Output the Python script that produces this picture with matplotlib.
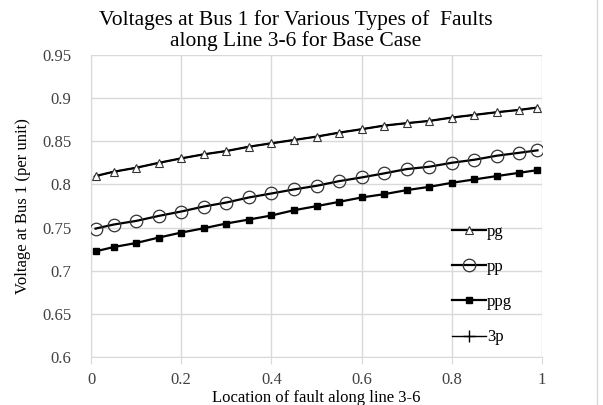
import numpy as np
import matplotlib
matplotlib.use("Agg")
import matplotlib.pyplot as plt
from matplotlib.lines import Line2D

plt.rcParams['font.family'] = ['Liberation Serif', 'DejaVu Serif']

# location of fault along line 3-6
loc = [0.01, 0.05, 0.1, 0.15, 0.2, 0.25, 0.3, 0.35, 0.4, 0.45, 0.5,
       0.55, 0.6, 0.65, 0.7, 0.75, 0.8, 0.85, 0.9, 0.95, 0.99]

# voltage at bus 1 (per unit)
v_pg = [0.8097, 0.8147, 0.8193, 0.8250, 0.8302, 0.8349, 0.8387, 0.8437,
        0.8477, 0.8515, 0.8554, 0.8600, 0.8640, 0.8682, 0.8710, 0.8736,
        0.8775, 0.8806, 0.8837, 0.8864, 0.8891]
v_pp = [0.7488, 0.7535, 0.7577, 0.7635, 0.7686, 0.7744, 0.7790, 0.7849,
        0.7895, 0.7942, 0.7984, 0.8038, 0.8081, 0.8128, 0.8178, 0.8205,
        0.8251, 0.8286, 0.8333, 0.8367, 0.8395]
v_ppg = [0.7224, 0.7274, 0.7321, 0.7384, 0.7442, 0.7492, 0.7547, 0.7593,
         0.7640, 0.7701, 0.7748, 0.7798, 0.7849, 0.7887, 0.7934, 0.7972,
         0.8019, 0.8058, 0.8097, 0.8135, 0.8166]
v_3p = [0.8097, 0.8147, 0.8193, 0.8250, 0.8302, 0.8349, 0.8387, 0.8437,
        0.8477, 0.8515, 0.8554, 0.8600, 0.8640, 0.8682, 0.8710, 0.8736,
        0.8775, 0.8806, 0.8837, 0.8864, 0.8891]

fig = plt.figure(figsize=(6.03, 4.05), dpi=100)
ax = fig.add_axes([91/603, 1 - 357/405, (542-91)/603, (357-55)/405])

# 3p sits under pg, its crosses are hidden by the triangles
ax.plot(loc, v_3p, '-', color='black', lw=1.0, marker='+', ms=4,
        mec='black', zorder=2)
l_pg, = ax.plot(loc, v_pg, '-', color='black', lw=1.6, marker='^', ms=5.5,
                mfc='white', mec='#333333', mew=0.8, zorder=3)
l_pp, = ax.plot(loc, v_pp, '-', color='black', lw=1.6, marker='o', ms=9,
                mfc='none', mec='#333333', mew=0.9, zorder=3)
l_ppg, = ax.plot(loc, v_ppg, '-', color='black', lw=1.6, marker='s', ms=5,
                 mfc='black', mec='black', zorder=3)
h_3p = Line2D([], [], color='black', lw=1.0, marker='+', ms=9, mew=1.0)

ax.set_xlim(0, 1)
ax.set_ylim(0.6, 0.95)
ax.set_xticks([0, 0.2, 0.4, 0.6, 0.8, 1])
ax.set_xticklabels(['0', '0.2', '0.4', '0.6', '0.8', '1'])
ax.set_yticks([0.6, 0.65, 0.7, 0.75, 0.8, 0.85, 0.9, 0.95])
ax.set_yticklabels(['0.6', '0.65', '0.7', '0.75', '0.8', '0.85', '0.9', '0.95'])
ax.grid(True, color='#d9d9d9', lw=1.0)
ax.set_axisbelow(True)
for s in ax.spines.values():
    s.set_color('#d9d9d9')
ax.spines['top'].set_visible(False)
ax.spines['right'].set_visible(False)
ax.tick_params(axis='x', length=5, color='#d9d9d9', labelsize=12,
               labelcolor='#404040', pad=6)
ax.tick_params(axis='y', length=0, labelsize=12, labelcolor='#404040', pad=14)

ax.set_xlabel('Location of fault along line 3-6', fontsize=12, labelpad=1)
ax.set_ylabel('Voltage at Bus 1 (per unit)', fontsize=12, labelpad=8)

fig.text(0.49, 0.975, 'Voltages at Bus 1 for Various Types of  Faults\nalong Line 3-6 for Base Case',
         ha='center', va='top', fontsize=15.5, linespacing=1.1)

ax.legend([l_pg, l_pp, l_ppg, h_3p], ['pg', 'pp', 'ppg', '3p'],
          loc='lower left', bbox_to_anchor=(0.775, 0.0), frameon=False,
          fontsize=12, handlelength=2.0, handletextpad=0.1,
          labelspacing=1.15, borderaxespad=0.3)

fig.add_artist(Line2D([597/603, 597/603], [0, 1], color='#d9d9d9', lw=1.0))

fig.savefig('out.png', dpi=100, facecolor='white')
